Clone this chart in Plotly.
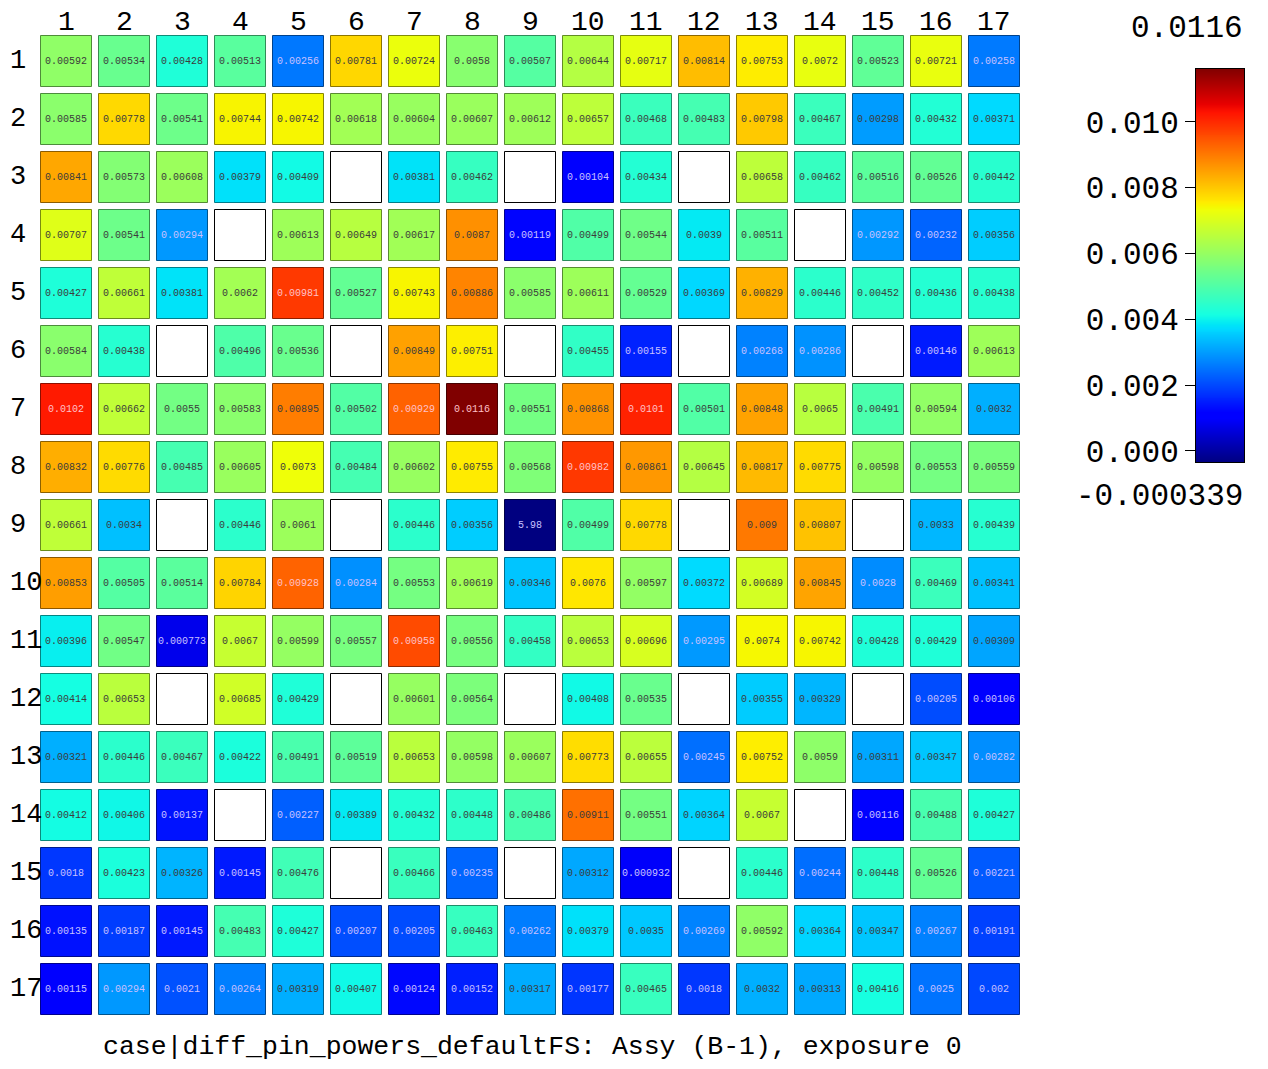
import plotly.graph_objects as go

# ---------------- data ----------------
COL_LABELS = [str(i) for i in range(1, 18)]
ROW_LABELS = [str(i) for i in range(1, 18)]
N = None
VALUES = [
    [0.00592, 0.00534, 0.00428, 0.00513, 0.00256, 0.00781, 0.00724, 0.0058, 0.00507, 0.00644, 0.00717, 0.00814, 0.00753, 0.0072, 0.00523, 0.00721, 0.00258],
    [0.00585, 0.00778, 0.00541, 0.00744, 0.00742, 0.00618, 0.00604, 0.00607, 0.00612, 0.00657, 0.00468, 0.00483, 0.00798, 0.00467, 0.00298, 0.00432, 0.00371],
    [0.00841, 0.00573, 0.00608, 0.00379, 0.00409, N, 0.00381, 0.00462, N, 0.00104, 0.00434, N, 0.00658, 0.00462, 0.00516, 0.00526, 0.00442],
    [0.00707, 0.00541, 0.00294, N, 0.00613, 0.00649, 0.00617, 0.0087, 0.00119, 0.00499, 0.00544, 0.0039, 0.00511, N, 0.00292, 0.00232, 0.00356],
    [0.00427, 0.00661, 0.00381, 0.0062, 0.00981, 0.00527, 0.00743, 0.00886, 0.00585, 0.00611, 0.00529, 0.00369, 0.00829, 0.00446, 0.00452, 0.00436, 0.00438],
    [0.00584, 0.00438, N, 0.00496, 0.00536, N, 0.00849, 0.00751, N, 0.00455, 0.00155, N, 0.00268, 0.00286, N, 0.00146, 0.00613],
    [0.0102, 0.00662, 0.0055, 0.00583, 0.00895, 0.00502, 0.00929, 0.0116, 0.00551, 0.00868, 0.0101, 0.00501, 0.00848, 0.0065, 0.00491, 0.00594, 0.0032],
    [0.00832, 0.00776, 0.00485, 0.00605, 0.0073, 0.00484, 0.00602, 0.00755, 0.00568, 0.00982, 0.00861, 0.00645, 0.00817, 0.00775, 0.00598, 0.00553, 0.00559],
    [0.00661, 0.0034, N, 0.00446, 0.0061, N, 0.00446, 0.00356, 5.98, 0.00499, 0.00778, N, 0.009, 0.00807, N, 0.0033, 0.00439],
    [0.00853, 0.00505, 0.00514, 0.00784, 0.00928, 0.00284, 0.00553, 0.00619, 0.00346, 0.0076, 0.00597, 0.00372, 0.00689, 0.00845, 0.0028, 0.00469, 0.00341],
    [0.00396, 0.00547, 0.000773, 0.0067, 0.00599, 0.00557, 0.00958, 0.00556, 0.00458, 0.00653, 0.00696, 0.00295, 0.0074, 0.00742, 0.00428, 0.00429, 0.00309],
    [0.00414, 0.00653, N, 0.00685, 0.00429, N, 0.00601, 0.00564, N, 0.00408, 0.00535, N, 0.00355, 0.00329, N, 0.00205, 0.00106],
    [0.00321, 0.00446, 0.00467, 0.00422, 0.00491, 0.00519, 0.00653, 0.00598, 0.00607, 0.00773, 0.00655, 0.00245, 0.00752, 0.0059, 0.00311, 0.00347, 0.00282],
    [0.00412, 0.00406, 0.00137, N, 0.00227, 0.00389, 0.00432, 0.00448, 0.00486, 0.00911, 0.00551, 0.00364, 0.0067, N, 0.00116, 0.00488, 0.00427],
    [0.0018, 0.00423, 0.00326, 0.00145, 0.00476, N, 0.00466, 0.00235, N, 0.00312, 0.000932, N, 0.00446, 0.00244, 0.00448, 0.00526, 0.00221],
    [0.00135, 0.00187, 0.00145, 0.00483, 0.00427, 0.00207, 0.00205, 0.00463, 0.00262, 0.00379, 0.0035, 0.00269, 0.00592, 0.00364, 0.00347, 0.00267, 0.00191],
    [0.00115, 0.00294, 0.0021, 0.00264, 0.00319, 0.00407, 0.00124, 0.00152, 0.00317, 0.00177, 0.00465, 0.0018, 0.0032, 0.00313, 0.00416, 0.0025, 0.002],
]
ZMIN = -0.000339
ZMAX = 0.0116
CB_TICKS = [0.0, 0.002, 0.004, 0.006, 0.008, 0.010]
TITLE = "case|diff_pin_powers_defaultFS: Assy (B-1), exposure 0"

# ---------------- style ----------------
OFF = 8                      # page body margin
W, H = 1268 - OFF, 1069 - OFF
FONT = "Liberation Mono"
# matplotlib-style jet segment data
SEG = {
    "r": [(0, 0), (0.35, 0), (0.66, 1), (0.89, 1), (1, 0.5)],
    "g": [(0, 0), (0.125, 0), (0.375, 1), (0.64, 1), (0.91, 0), (1, 0)],
    "b": [(0, 0.5), (0.11, 1), (0.34, 1), (0.65, 0), (1, 0)],
}


def _interp(pts, t):
    for (x0, y0), (x1, y1) in zip(pts, pts[1:]):
        if x0 <= t <= x1:
            return y0 + (y1 - y0) * (t - x0) / (x1 - x0) if x1 > x0 else y1
    return pts[-1][1]


stops = sorted({p[0] for ch in SEG.values() for p in ch})


def make_scale(f=1.0):
    return [[t, "rgb(%d,%d,%d)" % tuple(round(255 * f * _interp(SEG[c], t)) for c in "rgb")] for t in stops]


JET = make_scale(1.0)
JET_DARK = make_scale(0.55)

# ---------------- build marks ----------------
xs, ys, cvals, texts, tcolors = [], [], [], [], []
ex, ey = [], []
for r, row in enumerate(VALUES):
    for c, v in enumerate(row):
        if v is None:
            ex.append(c + 1)
            ey.append(r + 1)
            continue
        cv = v if v <= ZMAX else ZMIN  # out-of-range values shown at the bottom of the scale
        xs.append(c + 1)
        ys.append(r + 1)
        cvals.append(cv)
        texts.append(f"{v:.3g}")
        if cv < 0.00297:
            tcolors.append("#c8c0ff")
        elif cv > 0.0092:
            tcolors.append("#ffc0c8")
        else:
            tcolors.append("#3c3c3c")

fig = go.Figure()
fig.add_trace(go.Scatter(
    x=ex, y=ey, mode="markers",
    marker=dict(symbol="square", size=51, color="white", line=dict(color="black", width=1)),
    hoverinfo="skip", showlegend=False,
))
fig.add_trace(go.Scatter(
    x=xs, y=ys, mode="markers+text", text=texts,
    textposition="middle center",
    textfont=dict(family=FONT, size=10, color=tcolors),
    marker=dict(symbol="square", size=51, color=cvals, colorscale=JET, cmin=ZMIN, cmax=ZMAX,
                line=dict(color=cvals, colorscale=JET_DARK, cmin=ZMIN, cmax=ZMAX, width=1)),
    showlegend=False,
))

# colorbar drawn as a gradient on its own axis
NSTEP = 400
grad = [ZMIN + (ZMAX - ZMIN) * i / (NSTEP - 1) for i in range(NSTEP)]
fig.add_trace(go.Heatmap(
    x=[0], y=grad, z=[[g] for g in grad], colorscale=JET, zmin=ZMIN, zmax=ZMAX,
    showscale=False, xaxis="x2", yaxis="y2", hoverinfo="skip",
))


def px_x(p):
    return (p - OFF) / W


def px_y(p):
    return 1 - (p - OFF) / H


fig.update_layout(
    width=W, height=H, margin=dict(l=0, r=0, t=0, b=0, autoexpand=False),
    paper_bgcolor="white", plot_bgcolor="white",
    font=dict(family=FONT, color="black"),
    xaxis=dict(domain=[px_x(37), px_x(1023)], range=[0.5, 17.5], showticklabels=False, automargin=False,
               showgrid=False, zeroline=False, showline=False, ticks=""),
    yaxis=dict(domain=[px_y(1018), px_y(32)], range=[17.5, 0.5], showticklabels=False, automargin=False,
               showgrid=False, zeroline=False, showline=False, ticks=""),
    xaxis2=dict(domain=[px_x(1196), px_x(1244)], range=[-0.5, 0.5], anchor="y2", automargin=False,
                showticklabels=False, showgrid=False, zeroline=False, ticks="",
                showline=True, mirror=True, linecolor="black", linewidth=1),
    yaxis2=dict(domain=[px_y(462), px_y(69)], range=[ZMIN, ZMAX], anchor="x2", side="left", automargin=False,
                tickvals=CB_TICKS, ticktext=[f"{t:.3f}" for t in CB_TICKS],
                tickfont=dict(size=31), ticks="outside", ticklen=10, tickcolor="black",
                showgrid=False, zeroline=False,
                showline=True, mirror=True, linecolor="black", linewidth=1),
)

anns = []
for i, lab in enumerate(COL_LABELS):
    anns.append(dict(x=i + 1, xref="x", xanchor="center", y=px_y(22), yref="paper", yanchor="middle",
                     text=lab, showarrow=False, font=dict(size=28, family=FONT)))
for i, lab in enumerate(ROW_LABELS):
    anns.append(dict(x=px_x(OFF), xref="paper", xanchor="left", y=i + 1, yref="y", yanchor="middle",
                     text=lab, showarrow=False, font=dict(size=27, family=FONT)))
anns.append(dict(x=px_x(1245), xref="paper", xanchor="right", y=px_y(28), yref="paper", yanchor="middle",
                 text=f"{ZMAX:g}", showarrow=False, font=dict(size=31, family=FONT)))
anns.append(dict(x=px_x(1245), xref="paper", xanchor="right", y=px_y(496), yref="paper", yanchor="middle",
                 text=f"{ZMIN:g}", showarrow=False, font=dict(size=31, family=FONT)))
anns.append(dict(x=px_x(532), xref="paper", xanchor="center", y=px_y(1047), yref="paper", yanchor="middle",
                 text=TITLE, showarrow=False, font=dict(size=26.5, family=FONT)))
fig.update_layout(annotations=anns)

fig.write_html("out.html")
